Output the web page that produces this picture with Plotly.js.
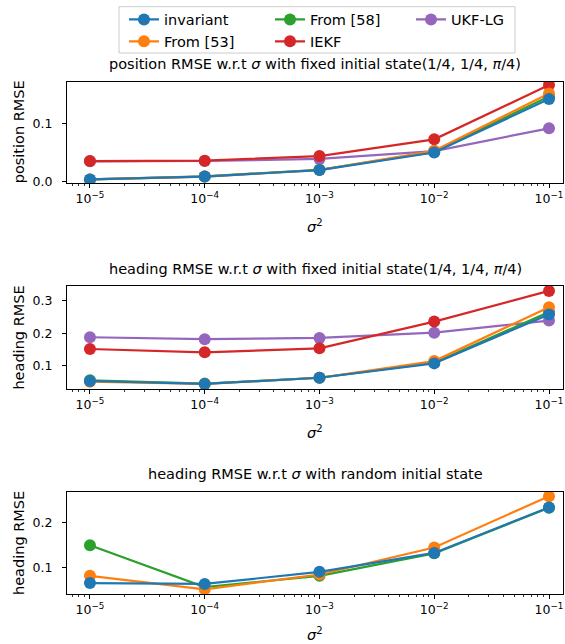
<!DOCTYPE html>
<html>
<head>
<meta charset="utf-8">
<script src="https://cdn.plot.ly/plotly-3.0.1.min.js"></script>
<style>html,body{margin:0;padding:0;background:#fff;}#chart{width:565px;height:644px;}</style>
</head>
<body>
<div id="chart"></div>
<script>
// ---- data ----
const sigma2 = [1e-5, 1e-4, 1e-3, 1e-2, 1e-1];
const seriesNames = ["invariant", "From [53]", "From [58]", "IEKF", "UKF-LG"];

// position RMSE, fixed initial state
const posInvariant = [0.004, 0.0088, 0.020, 0.050, 0.1416];
const posFrom53    = [0.004, 0.0088, 0.020, 0.053, 0.151];
const posFrom58    = [0.004, 0.0090, 0.0205, 0.051, 0.146];
const posIEKF      = [0.0354, 0.036, 0.044, 0.0726, 0.1656];
const posUKF       = [0.035, 0.0355, 0.039, 0.0525, 0.0914];

// heading RMSE, fixed initial state
const hdInvariant = [0.054, 0.045, 0.064, 0.108, 0.258];
const hdFrom53    = [0.052, 0.045, 0.064, 0.115, 0.280];
const hdFrom58    = [0.056, 0.046, 0.064, 0.110, 0.265];
const hdIEKF      = [0.152, 0.142, 0.154, 0.236, 0.330];
const hdUKF       = [0.188, 0.182, 0.186, 0.202, 0.239];

// heading RMSE, random initial state
const hrInvariant = [0.065, 0.063, 0.090, 0.132, 0.233];
const hrFrom53    = [0.081, 0.051, 0.084, 0.144, 0.258];
const hrFrom58    = [0.149, 0.056, 0.081, 0.131, 0.2325];

const xTickVals = [1e-5, 1e-4, 1e-3, 1e-2, 1e-1];
const xTickText = ["10<sup>−5</sup>", "10<sup>−4</sup>", "10<sup>−3</sup>", "10<sup>−2</sup>", "10<sup>−1</sup>"];
const yTicks1 = [0, 0.1], yTickText1 = ["0.0", "0.1"];
const yTicks2 = [0.1, 0.2, 0.3], yTickText2 = ["0.1", "0.2", "0.3"];
const yTicks3 = [0.1, 0.2], yTickText3 = ["0.1", "0.2"];

const titles = [
  "position RMSE w.r.t <i>σ</i> with fixed initial state(1/4, 1/4, <i>π</i>/4)",
  "heading RMSE w.r.t <i>σ</i> with fixed initial state(1/4, 1/4, <i>π</i>/4)",
  "heading RMSE w.r.t <i>σ</i> with random initial state"
];
const yTitles = ["position RMSE", "heading RMSE", "heading RMSE"];
const xTitle = "<i>σ</i><sup>2</sup>";

// ---- styling ----
const FONT = "DejaVu Sans";
const colors = {"invariant":"#1f77b4","From [53]":"#ff7f0e","From [58]":"#2ca02c","IEKF":"#d62728","UKF-LG":"#9467bd"};
const legendOf = {"invariant":"legend","From [53]":"legend","From [58]":"legend2","IEKF":"legend2","UKF-LG":"legend3"};
const rankOf = {"invariant":1,"From [53]":2,"From [58]":1,"IEKF":2,"UKF-LG":1};

function tr(name, y, ax, show) {
  return {
    type: "scatter", mode: "lines+markers", name: name,
    x: sigma2, y: y, xaxis: "x" + ax, yaxis: "y" + ax,
    line: {color: colors[name], width: 2.2},
    marker: {color: colors[name], size: 12},
    showlegend: show, legend: legendOf[name], legendrank: rankOf[name]
  };
}

const data = [
  tr("UKF-LG", posUKF, "", true),
  tr("IEKF", posIEKF, "", true),
  tr("From [58]", posFrom58, "", true),
  tr("From [53]", posFrom53, "", true),
  tr("invariant", posInvariant, "", true),
  tr("UKF-LG", hdUKF, "2", false),
  tr("IEKF", hdIEKF, "2", false),
  tr("From [58]", hdFrom58, "2", false),
  tr("From [53]", hdFrom53, "2", false),
  tr("invariant", hdInvariant, "2", false),
  tr("From [58]", hrFrom58, "3", false),
  tr("From [53]", hrFrom53, "3", false),
  tr("invariant", hrInvariant, "3", false)
];

const H = 644, W = 565;
function py(p) { return 1 - p / H; }
function px(p) { return (p - 67) / 496; }

function xax(anchor) {
  return {
    type: "log", range: [-5.2, -0.878], anchor: anchor,
    tickvals: xTickVals, ticktext: xTickText,
    ticks: "outside", ticklen: 4, tickwidth: 1, tickcolor: "#000",
    minor: {ticks: "outside", ticklen: 2, tickwidth: 0.8, tickcolor: "#000", dtick: "D1"},
    showline: true, linecolor: "#000", linewidth: 1, mirror: true,
    showgrid: false, zeroline: false,
    tickfont: {family: FONT, size: 12.5, color: "#000"}
  };
}
function yax(anchor, dom, range, tv, tt) {
  return {
    domain: dom, range: range, anchor: anchor,
    tickvals: tv, ticktext: tt,
    ticks: "outside", ticklen: 4, tickwidth: 1, tickcolor: "#000",
    ticklabelstandoff: 7,
    showline: true, linecolor: "#000", linewidth: 1, mirror: true,
    showgrid: false, zeroline: false,
    tickfont: {family: FONT, size: 12.5, color: "#000"}
  };
}

const legendCommon = {
  xref: "container", yref: "container", xanchor: "left", yanchor: "top",
  orientation: "v", bgcolor: "rgba(0,0,0,0)", borderwidth: 0,
  font: {family: FONT, size: 14.5, color: "#000"}, tracegroupgap: 0
};

function ann(text, x, y, angle, size) {
  return {text: text, xref: "paper", yref: "paper", x: x, y: y, xanchor: "center", yanchor: "middle",
          showarrow: false, textangle: angle, font: {family: FONT, size: size, color: "#000"}};
}

const panelMid = [132.3, 337.6, 543];
const xTitleY = [226, 432, 634];

const annotations = [
  ann(titles[0], 0.5, py(64), 0, 14.5),
  ann(titles[1], 0.5, py(269), 0, 14.5),
  ann(titles[2], 0.5, py(474), 0, 14.5)
];
for (let i = 0; i < 3; i++) {
  annotations.push(ann(yTitles[i], px(19), py(panelMid[i]), -90, 14.5));
  annotations.push(ann(xTitle, 0.5, py(xTitleY[i]), 0, 14.5));
}

const layout = {
  width: W, height: H,
  margin: {l: 67, r: 2, t: 0, b: 0, autoexpand: false},
  paper_bgcolor: "#fff", plot_bgcolor: "#fff",
  font: {family: FONT, color: "#000"},
  showlegend: true,
  xaxis: xax("y"),
  yaxis: yax("x", [py(183), py(81.7)], [-0.0022, 0.1713], yTicks1, yTickText1),
  xaxis2: xax("y2"),
  yaxis2: yax("x2", [py(389.3), py(286)], [0.0286, 0.345], yTicks2, yTickText2),
  xaxis3: xax("y3"),
  yaxis3: yax("x3", [py(594.3), py(491.7)], [0.040, 0.268], yTicks3, yTickText3),
  legend: Object.assign({}, legendCommon, {x: 124 / W, y: 1 - 3.5 / H}),
  legend2: Object.assign({}, legendCommon, {x: 270 / W, y: 1 - 3.5 / H}),
  legend3: Object.assign({}, legendCommon, {x: 411 / W, y: 1 - 3.5 / H}),
  shapes: [{
    type: "rect", xref: "paper", yref: "paper",
    x0: px(119), x1: px(515),
    y0: py(53), y1: py(6.7),
    line: {color: "#cccccc", width: 1}, fillcolor: "rgba(255,255,255,0.8)", layer: "below"
  }],
  annotations: annotations
};

Plotly.newPlot("chart", data, layout, {displayModeBar: false, staticPlot: true});
</script>
</body>
</html>
